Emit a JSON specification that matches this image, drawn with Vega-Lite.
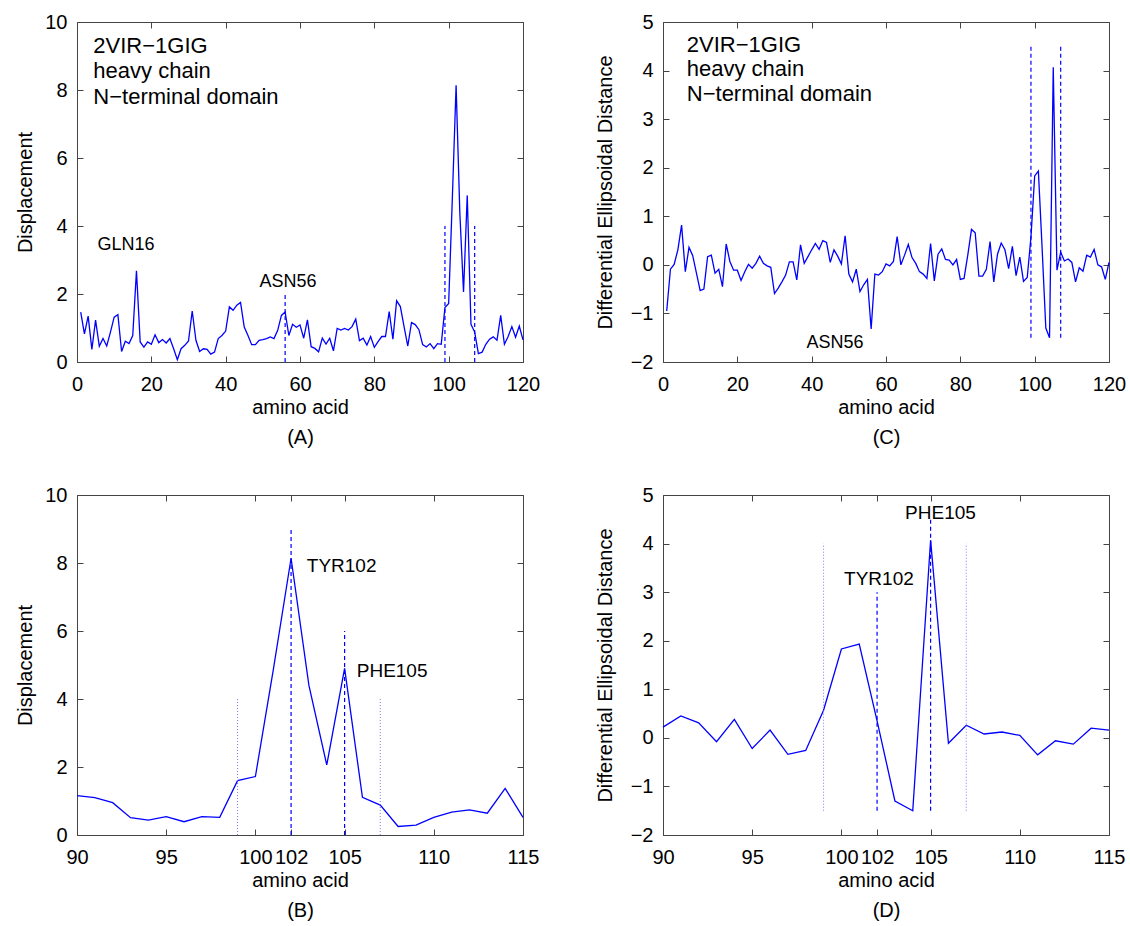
{
  "$schema": "https://vega.github.io/schema/vega-lite/v6.json",
  "padding": {"left": 15, "top": 12, "right": 5, "bottom": 5},
  "config": {
    "font": "Liberation Sans",
    "view": {"stroke": null},
    "axis": {
      "labelFontSize": 20, "titleFontSize": 20, "titleFontWeight": "normal",
      "labelColor": "#000", "titleColor": "#000", "domainColor": "#444", "tickColor": "#444",
      "tickSize": -6, "grid": false, "labelFont": "Liberation Sans", "titleFont": "Liberation Sans",
      "titleLineHeight": 30, "labelFlush": false
    },
    "axisX": {"labelPadding": 18, "titlePadding": 3},
    "axisY": {"labelPadding": 16, "titlePadding": 9}
  },
  "datasets": {
    "disp": [
      {"x":1,"y":1.47},{"x":2,"y":0.83},{"x":3,"y":1.35},{"x":4,"y":0.37},{"x":5,"y":1.23},{"x":6,"y":0.46},{"x":7,"y":0.69},{"x":8,"y":0.47},{"x":9,"y":0.88},{"x":10,"y":1.32},
      {"x":11,"y":1.39},{"x":12,"y":0.31},{"x":13,"y":0.61},{"x":14,"y":0.54},{"x":15,"y":0.78},{"x":16,"y":2.68},{"x":17,"y":0.59},{"x":18,"y":0.44},{"x":19,"y":0.59},{"x":20,"y":0.52},
      {"x":21,"y":0.80},{"x":22,"y":0.57},{"x":23,"y":0.66},{"x":24,"y":0.56},{"x":25,"y":0.69},{"x":26,"y":0.39},{"x":27,"y":0.07},{"x":28,"y":0.39},{"x":29,"y":0.49},{"x":30,"y":0.62},
      {"x":31,"y":1.50},{"x":32,"y":0.64},{"x":33,"y":0.31},{"x":34,"y":0.39},{"x":35,"y":0.37},{"x":36,"y":0.23},{"x":37,"y":0.29},{"x":38,"y":0.69},{"x":39,"y":0.78},{"x":40,"y":0.91},
      {"x":41,"y":1.62},{"x":42,"y":1.52},{"x":43,"y":1.67},{"x":44,"y":1.75},{"x":45,"y":1.03},{"x":46,"y":0.78},{"x":47,"y":0.51},{"x":48,"y":0.51},{"x":49,"y":0.64},{"x":50,"y":0.66},
      {"x":51,"y":0.69},{"x":52,"y":0.74},{"x":53,"y":0.69},{"x":54,"y":0.93},{"x":55,"y":1.37},{"x":56,"y":1.47},{"x":57,"y":0.78},{"x":58,"y":1.11},{"x":59,"y":1.02},{"x":60,"y":1.09},
      {"x":61,"y":0.70},{"x":62,"y":1.24},{"x":63,"y":0.45},{"x":64,"y":0.40},{"x":65,"y":0.30},{"x":66,"y":0.70},{"x":67,"y":0.53},{"x":68,"y":0.70},{"x":69,"y":0.33},{"x":70,"y":0.99},
      {"x":71,"y":0.94},{"x":72,"y":0.99},{"x":73,"y":0.94},{"x":74,"y":1.04},{"x":75,"y":1.26},{"x":76,"y":0.63},{"x":77,"y":0.70},{"x":78,"y":0.50},{"x":79,"y":0.75},{"x":80,"y":0.43},
      {"x":81,"y":0.60},{"x":82,"y":0.75},{"x":83,"y":0.75},{"x":84,"y":1.48},{"x":85,"y":0.67},{"x":86,"y":1.80},{"x":87,"y":1.63},{"x":88,"y":1.04},{"x":89,"y":0.47},{"x":90,"y":1.16},
      {"x":91,"y":1.10},{"x":92,"y":0.95},{"x":93,"y":0.51},{"x":94,"y":0.44},{"x":95,"y":0.54},{"x":96,"y":0.39},{"x":97,"y":0.54},{"x":98,"y":0.52},{"x":99,"y":1.60},{"x":100,"y":1.72},
      {"x":101,"y":4.85},{"x":102,"y":8.14},{"x":103,"y":4.40},{"x":104,"y":2.06},{"x":105,"y":4.90},{"x":106,"y":1.11},{"x":107,"y":0.88},{"x":108,"y":0.25},{"x":109,"y":0.29},{"x":110,"y":0.52},
      {"x":111,"y":0.67},{"x":112,"y":0.74},{"x":113,"y":0.64},{"x":114,"y":1.37},{"x":115,"y":0.52},{"x":116,"y":0.75},{"x":117,"y":1.04},{"x":118,"y":0.73},{"x":119,"y":1.06},{"x":120,"y":0.65}
    ],
    "ded": [
      {"x":1,"y":-0.95},{"x":2,"y":-0.09},{"x":3,"y":0.01},{"x":4,"y":0.31},{"x":5,"y":0.82},{"x":6,"y":-0.14},{"x":7,"y":0.36},{"x":8,"y":0.19},{"x":9,"y":-0.17},{"x":10,"y":-0.53},
      {"x":11,"y":-0.50},{"x":12,"y":0.17},{"x":13,"y":0.20},{"x":14,"y":-0.17},{"x":15,"y":-0.09},{"x":16,"y":-0.45},{"x":17,"y":0.43},{"x":18,"y":0.07},{"x":19,"y":-0.11},{"x":20,"y":-0.11},
      {"x":21,"y":-0.32},{"x":22,"y":-0.14},{"x":23,"y":0.01},{"x":24,"y":-0.07},{"x":25,"y":0.03},{"x":26,"y":0.18},{"x":27,"y":0.03},{"x":28,"y":-0.02},{"x":29,"y":-0.05},{"x":30,"y":-0.59},
      {"x":31,"y":-0.48},{"x":32,"y":-0.35},{"x":33,"y":-0.21},{"x":34,"y":0.06},{"x":35,"y":0.06},{"x":36,"y":-0.31},{"x":37,"y":0.41},{"x":38,"y":0.03},{"x":39,"y":0.17},{"x":40,"y":0.31},
      {"x":41,"y":0.44},{"x":42,"y":0.32},{"x":43,"y":0.50},{"x":44,"y":0.46},{"x":45,"y":0.05},{"x":46,"y":0.31},{"x":47,"y":0.18},{"x":48,"y":0.02},{"x":49,"y":0.60},{"x":50,"y":-0.19},
      {"x":51,"y":-0.35},{"x":52,"y":-0.09},{"x":53,"y":-0.55},{"x":54,"y":-0.41},{"x":55,"y":-0.30},{"x":56,"y":-1.32},{"x":57,"y":-0.19},{"x":58,"y":-0.21},{"x":59,"y":-0.14},{"x":60,"y":0.02},
      {"x":61,"y":-0.02},{"x":62,"y":0.07},{"x":63,"y":0.58},{"x":64,"y":0.00},{"x":65,"y":0.20},{"x":66,"y":0.42},{"x":67,"y":0.15},{"x":68,"y":0.03},{"x":69,"y":-0.14},{"x":70,"y":-0.19},
      {"x":71,"y":-0.28},{"x":72,"y":0.44},{"x":73,"y":-0.33},{"x":74,"y":0.22},{"x":75,"y":0.33},{"x":76,"y":0.11},{"x":77,"y":0.10},{"x":78,"y":0.00},{"x":79,"y":0.11},{"x":80,"y":-0.30},
      {"x":81,"y":-0.28},{"x":82,"y":0.20},{"x":83,"y":0.73},{"x":84,"y":0.66},{"x":85,"y":-0.23},{"x":86,"y":-0.23},{"x":87,"y":-0.09},{"x":88,"y":0.48},{"x":89,"y":-0.35},{"x":90,"y":0.22},
      {"x":91,"y":0.45},{"x":92,"y":0.31},{"x":93,"y":-0.08},{"x":94,"y":0.38},{"x":95,"y":-0.22},{"x":96,"y":0.16},{"x":97,"y":-0.34},{"x":98,"y":-0.26},{"x":99,"y":0.57},{"x":100,"y":1.83},
      {"x":101,"y":1.93},{"x":102,"y":0.35},{"x":103,"y":-1.30},{"x":104,"y":-1.50},{"x":105,"y":4.07},{"x":106,"y":-0.11},{"x":107,"y":0.26},{"x":108,"y":0.08},{"x":109,"y":0.12},{"x":110,"y":0.05},
      {"x":111,"y":-0.35},{"x":112,"y":-0.06},{"x":113,"y":-0.13},{"x":114,"y":0.20},{"x":115,"y":0.16},{"x":116,"y":0.32},{"x":117,"y":0.00},{"x":118,"y":-0.04},{"x":119,"y":-0.30},{"x":120,"y":0.05}
    ]
  },
  "columns": 2,
  "spacing": {"row": 133, "column": 140},
  "bounds": "flush",
  "concat": [
    {
      "width": 446, "height": 340,
      "resolve": {"axis": {"x": "independent", "y": "independent"}},
      "layer": [
        {
          "data": {"name": "disp"},
          "mark": {"type": "line", "color": "#0000ff", "strokeWidth": 1.3},
          "encoding": {
            "x": {"field": "x", "type": "quantitative", "scale": {"domain": [0, 120], "nice": false}, "axis": {"values": [0,20,40,60,80,100,120], "title": ["amino acid", "(A)"]}},
            "y": {"field": "y", "type": "quantitative", "scale": {"domain": [0, 10], "nice": false}, "axis": {"values": [0,2,4,6,8,10], "title": "Displacement"}}
          }
        },
        {
          "data": {"values": [{"x": 56, "y": 0, "y2": 2}, {"x": 99, "y": 0, "y2": 4}, {"x": 107, "y": 0, "y2": 4}]},
          "mark": {"type": "rule", "color": "#0000ff", "strokeDash": [4, 3], "strokeWidth": 1.2},
          "encoding": {
            "x": {"field": "x", "type": "quantitative", "axis": {"orient": "top", "labels": false, "title": null, "values": [0,20,40,60,80,100,120]}},
            "y": {"field": "y", "type": "quantitative", "axis": {"orient": "right", "labels": false, "title": null, "values": [0,2,4,6,8,10]}},
            "y2": {"field": "y2"}
          }
        },
        {
          "data": {"values": [{"x": 4.4, "y": 9.08, "label": "2VIR−1GIG"}, {"x": 4.4, "y": 8.36, "label": "heavy chain"}, {"x": 4.4, "y": 7.59, "label": "N−terminal domain"}]},
          "mark": {"type": "text", "align": "left", "baseline": "alphabetic", "fontSize": 22, "color": "#000"},
          "encoding": {
            "x": {"field": "x", "type": "quantitative", "axis": null},
            "y": {"field": "y", "type": "quantitative", "axis": null},
            "text": {"field": "label"}
          }
        },
        {
          "data": {"values": [{"x": 13.2, "y": 3.29, "label": "GLN16"}, {"x": 56.8, "y": 2.21, "label": "ASN56"}]},
          "mark": {"type": "text", "align": "center", "baseline": "alphabetic", "fontSize": 18, "color": "#000"},
          "encoding": {
            "x": {"field": "x", "type": "quantitative", "axis": null},
            "y": {"field": "y", "type": "quantitative", "axis": null},
            "text": {"field": "label"}
          }
        }
      ]
    },
    {
      "width": 446, "height": 340,
      "resolve": {"axis": {"x": "independent", "y": "independent"}},
      "layer": [
        {
          "mark": {"type": "rule", "color": "#7a7aff", "strokeDash": [1, 2], "strokeWidth": 1},
          "encoding": {"y": {"datum": 0, "type": "quantitative", "axis": null}}
        },
        {
          "data": {"name": "ded"},
          "mark": {"type": "line", "color": "#0000ff", "strokeWidth": 1.3},
          "encoding": {
            "x": {"field": "x", "type": "quantitative", "scale": {"domain": [0, 120], "nice": false}, "axis": {"values": [0,20,40,60,80,100,120], "title": ["amino acid", "(C)"]}},
            "y": {"field": "y", "type": "quantitative", "scale": {"domain": [-2, 5], "nice": false}, "axis": {"values": [-2,-1,0,1,2,3,4,5], "title": "Differential Ellipsoidal Distance", "titlePadding": 15}}
          }
        },
        {
          "data": {"values": [{"x": 99, "y": -1.5, "y2": 4.5}, {"x": 107, "y": -1.5, "y2": 4.5}]},
          "mark": {"type": "rule", "color": "#0000ff", "strokeDash": [4, 3], "strokeWidth": 1.2},
          "encoding": {
            "x": {"field": "x", "type": "quantitative", "axis": {"orient": "top", "labels": false, "title": null, "values": [0,20,40,60,80,100,120]}},
            "y": {"field": "y", "type": "quantitative", "axis": {"orient": "right", "labels": false, "title": null, "values": [-2,-1,0,1,2,3,4,5]}},
            "y2": {"field": "y2"}
          }
        },
        {
          "data": {"values": [{"x": 6.4, "y": 4.39, "label": "2VIR−1GIG"}, {"x": 6.4, "y": 3.89, "label": "heavy chain"}, {"x": 6.4, "y": 3.37, "label": "N−terminal domain"}]},
          "mark": {"type": "text", "align": "left", "baseline": "alphabetic", "fontSize": 22, "color": "#000"},
          "encoding": {
            "x": {"field": "x", "type": "quantitative", "axis": null},
            "y": {"field": "y", "type": "quantitative", "axis": null},
            "text": {"field": "label"}
          }
        },
        {
          "data": {"values": [{"x": 46.3, "y": -1.72, "label": "ASN56"}]},
          "mark": {"type": "text", "align": "center", "baseline": "alphabetic", "fontSize": 18, "color": "#000"},
          "encoding": {
            "x": {"field": "x", "type": "quantitative", "axis": null},
            "y": {"field": "y", "type": "quantitative", "axis": null},
            "text": {"field": "label"}
          }
        }
      ]
    },
    {
      "width": 446, "height": 340,
      "resolve": {"axis": {"x": "independent", "y": "independent"}},
      "layer": [
        {
          "data": {"name": "disp"},
          "transform": [{"filter": "datum.x >= 90 && datum.x <= 115"}],
          "mark": {"type": "line", "color": "#0000ff", "strokeWidth": 1.3},
          "encoding": {
            "x": {"field": "x", "type": "quantitative", "scale": {"domain": [90, 115], "nice": false}, "axis": {"values": [90,95,100,102,105,110,115], "labelOverlap": false, "title": ["amino acid", "(B)"]}},
            "y": {"field": "y", "type": "quantitative", "scale": {"domain": [0, 10], "nice": false}, "axis": {"values": [0,2,4,6,8,10], "title": "Displacement"}}
          }
        },
        {
          "data": {"values": [{"x": 99, "y": 0, "y2": 4}, {"x": 107, "y": 0, "y2": 4}]},
          "mark": {"type": "rule", "color": "#7a7aff", "strokeDash": [1, 2], "strokeWidth": 1},
          "encoding": {
            "x": {"field": "x", "type": "quantitative", "axis": null},
            "y": {"field": "y", "type": "quantitative", "axis": null},
            "y2": {"field": "y2"}
          }
        },
        {
          "data": {"values": [{"x": 102, "y": 0, "y2": 9}, {"x": 105, "y": 0, "y2": 6}]},
          "mark": {"type": "rule", "color": "#0000ff", "strokeDash": [4, 3], "strokeWidth": 1.2},
          "encoding": {
            "x": {"field": "x", "type": "quantitative", "axis": {"orient": "top", "labels": false, "title": null, "values": [90,95,100,102,105,110,115]}},
            "y": {"field": "y", "type": "quantitative", "axis": {"orient": "right", "labels": false, "title": null, "values": [0,2,4,6,8,10]}},
            "y2": {"field": "y2"}
          }
        },
        {
          "data": {"values": [{"x": 102.88, "y": 7.74, "label": "TYR102"}, {"x": 105.68, "y": 4.66, "label": "PHE105"}]},
          "mark": {"type": "text", "align": "left", "baseline": "alphabetic", "fontSize": 19, "color": "#000"},
          "encoding": {
            "x": {"field": "x", "type": "quantitative", "axis": null},
            "y": {"field": "y", "type": "quantitative", "axis": null},
            "text": {"field": "label"}
          }
        }
      ]
    },
    {
      "width": 446, "height": 340,
      "resolve": {"axis": {"x": "independent", "y": "independent"}},
      "layer": [
        {
          "mark": {"type": "rule", "color": "#7a7aff", "strokeDash": [1, 2], "strokeWidth": 1},
          "encoding": {"y": {"datum": 0, "type": "quantitative", "axis": null}}
        },
        {
          "data": {"name": "ded"},
          "transform": [{"filter": "datum.x >= 90 && datum.x <= 115"}],
          "mark": {"type": "line", "color": "#0000ff", "strokeWidth": 1.3},
          "encoding": {
            "x": {"field": "x", "type": "quantitative", "scale": {"domain": [90, 115], "nice": false}, "axis": {"values": [90,95,100,102,105,110,115], "labelOverlap": false, "title": ["amino acid", "(D)"]}},
            "y": {"field": "y", "type": "quantitative", "scale": {"domain": [-2, 5], "nice": false}, "axis": {"values": [-2,-1,0,1,2,3,4,5], "title": "Differential Ellipsoidal Distance", "titlePadding": 15}}
          }
        },
        {
          "data": {"values": [{"x": 99, "y": -1.5, "y2": 4}, {"x": 107, "y": -1.5, "y2": 4}]},
          "mark": {"type": "rule", "color": "#7a7aff", "strokeDash": [1, 2], "strokeWidth": 1},
          "encoding": {
            "x": {"field": "x", "type": "quantitative", "axis": null},
            "y": {"field": "y", "type": "quantitative", "axis": null},
            "y2": {"field": "y2"}
          }
        },
        {
          "data": {"values": [{"x": 102, "y": -1.5, "y2": 3}, {"x": 105, "y": -1.5, "y2": 4.5}]},
          "mark": {"type": "rule", "color": "#0000ff", "strokeDash": [4, 3], "strokeWidth": 1.2},
          "encoding": {
            "x": {"field": "x", "type": "quantitative", "axis": {"orient": "top", "labels": false, "title": null, "values": [90,95,100,102,105,110,115]}},
            "y": {"field": "y", "type": "quantitative", "axis": {"orient": "right", "labels": false, "title": null, "values": [-2,-1,0,1,2,3,4,5]}},
            "y2": {"field": "y2"}
          }
        },
        {
          "data": {"values": [{"x": 100.15, "y": 3.15, "label": "TYR102"}, {"x": 103.57, "y": 4.5, "label": "PHE105"}]},
          "mark": {"type": "text", "align": "left", "baseline": "alphabetic", "fontSize": 19, "color": "#000"},
          "encoding": {
            "x": {"field": "x", "type": "quantitative", "axis": null},
            "y": {"field": "y", "type": "quantitative", "axis": null},
            "text": {"field": "label"}
          }
        }
      ]
    }
  ]
}
